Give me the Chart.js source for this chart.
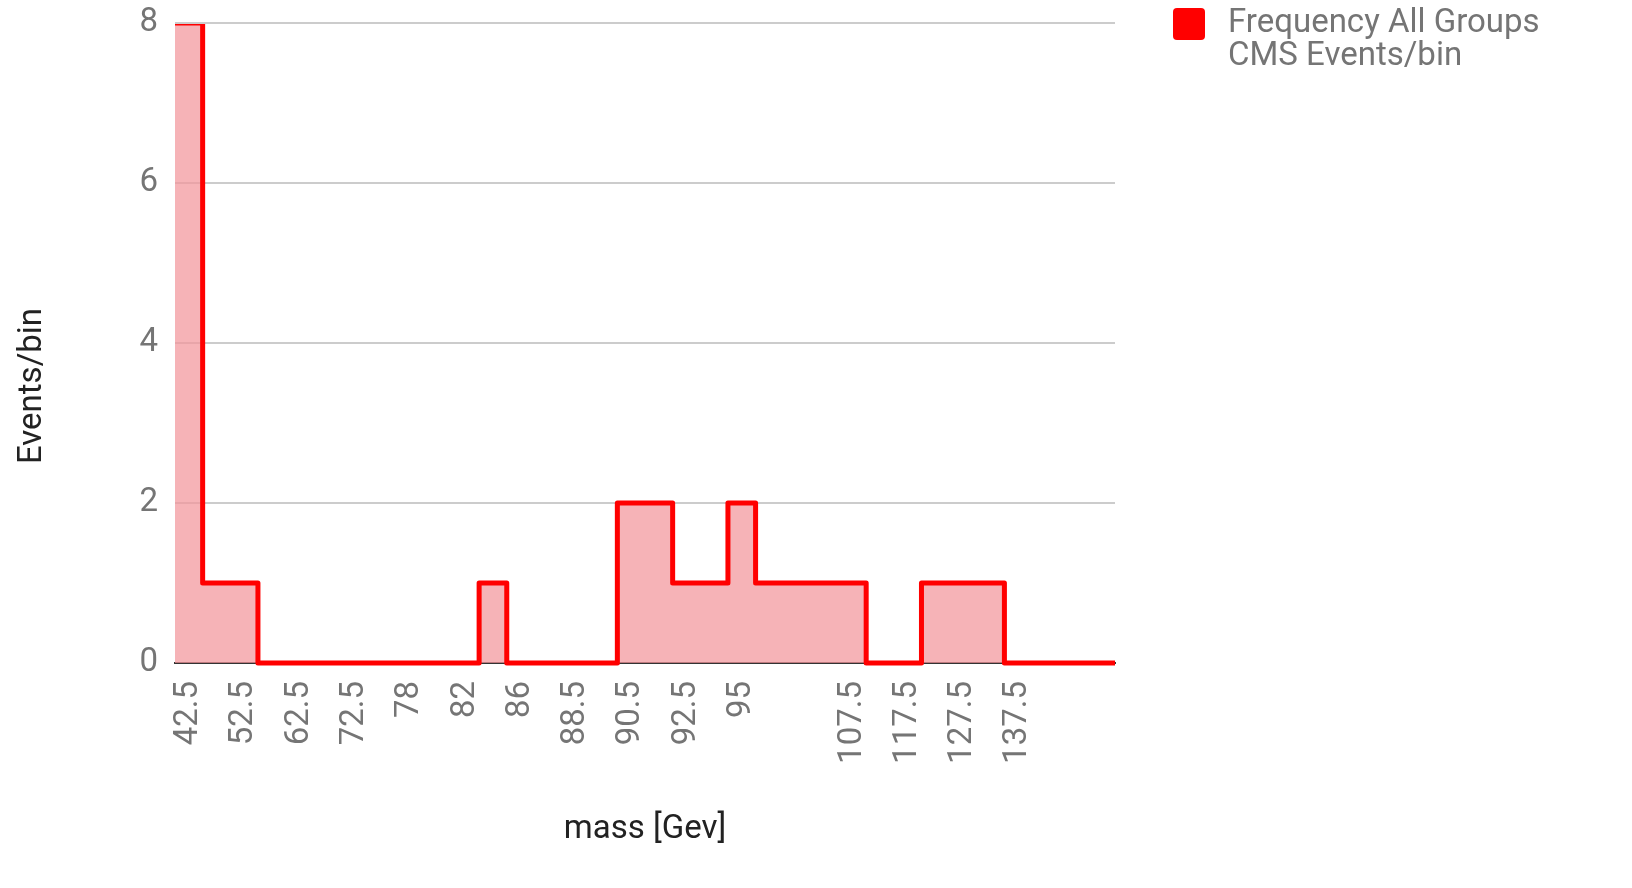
<!DOCTYPE html>
<html><head><meta charset="utf-8">
<script src="https://cdn.jsdelivr.net/npm/chart.js@4.4.1/dist/chart.umd.min.js"></script>
<style>html,body{margin:0;padding:0;background:#fff}#wrap{width:1632px;height:888px;position:relative}</style>
</head><body><div id="wrap"><canvas id="c"></canvas></div>
<script>
// ---- data ----
const binLabels = ['42.5','','52.5','','62.5','','72.5','','78','','82','','86','','88.5','','90.5','','92.5','','95','','','','107.5','','117.5','','127.5','','137.5','','',''];
const eventsPerBin = [8,1,1,0,0,0,0,0,0,0,0,1,0,0,0,0,2,2,1,1,2,1,1,1,1,0,0,1,1,1,0,0,0,0];
const yTicks = [0,2,4,6,8];
const seriesName = ['Frequency All Groups','CMS Events/bin'];
const xTitle = 'mass [Gev]';
const yTitle = 'Events/bin';

const FONT = 'Roboto';
const FS = 33;
const n = eventsPerBin.length;
const stepPoints = eventsPerBin.map((v,i)=>({x:i,y:v})).concat([{x:n,y:eventsPerBin[n-1]}]);

const extras = {
  id:'extras',
  afterDraw(chart){
    const ctx = chart.ctx;
    ctx.save();
    // y title
    ctx.fillStyle = '#222';
    ctx.font = FS + 'px ' + FONT;
    ctx.textAlign = 'center';
    ctx.textBaseline = 'middle';
    ctx.translate(33, 386);
    ctx.rotate(-Math.PI/2);
    ctx.fillText(yTitle, 0, 0);
    ctx.restore();
    // legend
    ctx.save();
    ctx.fillStyle = '#ff0000';
    ctx.beginPath();
    ctx.roundRect(1173, 8, 32, 32, 4);
    ctx.fill();
    ctx.fillStyle = '#757575';
    ctx.font = FS + 'px ' + FONT;
    ctx.textAlign = 'left';
    ctx.textBaseline = 'middle';
    ctx.fillText(seriesName[0], 1228, 24);
    ctx.fillText(seriesName[1], 1228, 57);
    ctx.restore();
  }
};

new Chart(document.getElementById('c'), {
  type:'line',
  data:{
    datasets:[{
      label: seriesName.join(' '),
      data: stepPoints,
      xAxisID:'xl',
      yAxisID:'y',
      stepped:'before',
      borderColor:'#ff0000',
      borderWidth:5,
      borderJoinStyle:'round',
      borderCapStyle:'round',
      backgroundColor:'rgba(243,150,155,0.72)',
      fill:'origin',
      pointRadius:0,
      tension:0,
      clip:{left:0, top:-1, right:0, bottom:4}
    }]
  },
  options:{
    responsive:true,
    maintainAspectRatio:false,
    animation:false,
    layout:{padding:{top:23, right:517, bottom:0, left:0}},
    plugins:{legend:{display:false}, tooltip:{enabled:false}},
    scales:{
      x:{
        type:'category',
        labels: binLabels,
        offset:true,
        position:'bottom',
        grid:{display:false, drawTicks:false},
        border:{display:true, color:'#333', width:2},
        ticks:{autoSkip:false, maxRotation:90, minRotation:90, padding:18, color:'#757575', font:{family:FONT, size:FS}},
        title:{display:true, text:xTitle, color:'#222', font:{family:FONT, size:FS}, padding:{top:0, bottom:38}},
        afterFit(s){ s.height = 225; }
      },
      xl:{
        type:'linear', position:'bottom', min:0, max:n, display:false
      },
      y:{
        min:0, max:8,
        afterBuildTicks(s){ s.ticks = yTicks.map(v=>({value:v})); },
        grid:{
          drawTicks:false,
          lineWidth:2,
          color:(c)=> c.tick && c.tick.value === 0 ? '#333' : '#cccccc'
        },
        border:{display:false},
        ticks:{padding:17, color:'#757575', font:{family:FONT, size:FS}},
        afterFit(s){ s.width = 175; s.paddingTop = 0; s.paddingBottom = 0; }
      }
    }
  },
  plugins:[extras]
});
</script>
</body></html>
